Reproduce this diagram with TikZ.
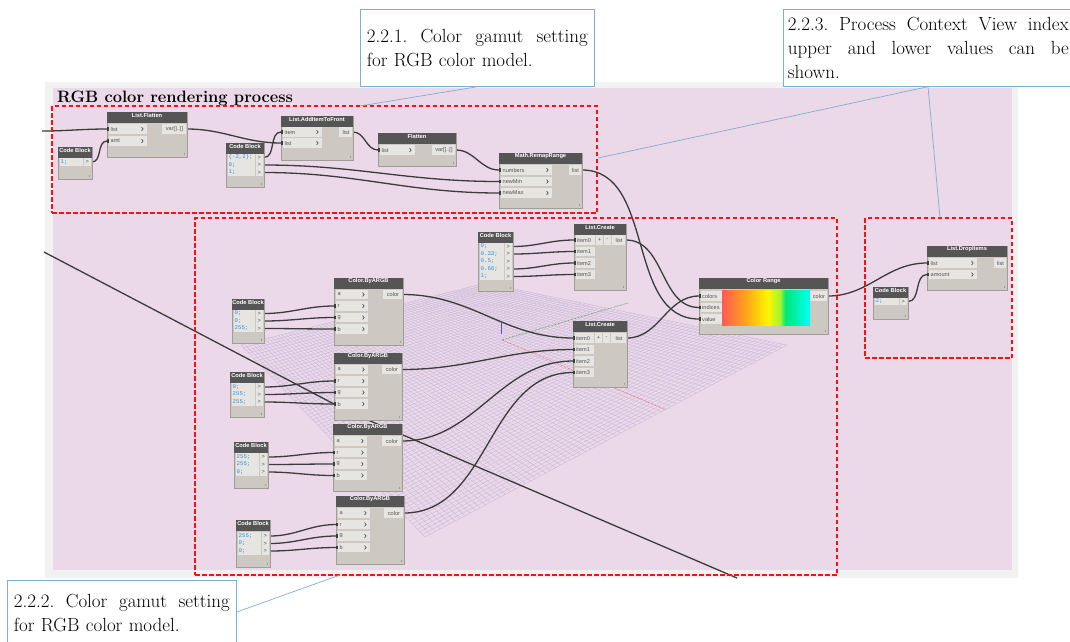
\documentclass[tikz,border=0pt]{standalone}
\usepackage{fontspec}
\setsansfont{Liberation Sans}
\setmonofont{Liberation Mono}
\usetikzlibrary{fit,calc}
\definecolor{pinkbg}{HTML}{EBD8E8}
\definecolor{greyfr}{HTML}{F2F2F2}
\definecolor{headc}{HTML}{555555}
\definecolor{bodyc}{HTML}{CEC8C3}
\definecolor{portc}{HTML}{E7E5E2}
\definecolor{bordc}{HTML}{A09C98}
\definecolor{wirec}{HTML}{3C3C3C}
\definecolor{codec}{HTML}{2F8FDF}
\definecolor{callc}{HTML}{7FAFD0}
\definecolor{gridc}{HTML}{C6B6DA}
\definecolor{labc}{HTML}{555555}
\definecolor{dashred}{HTML}{FF1010}
\definecolor{gA}{HTML}{FF5A55}
\definecolor{gB}{HTML}{FFA21A}
\definecolor{gC}{HTML}{FFF500}
\definecolor{gD}{HTML}{A0F530}
\definecolor{gE}{HTML}{00E87A}
\definecolor{gF}{HTML}{00FFF5}
\pgfdeclarehorizontalshading{crgrad}{100bp}{color(0bp)=(gA); color(25bp)=(gA); color(38bp)=(gB); color(51bp)=(gC); color(58bp)=(gD); color(61bp)=(gE); color(75bp)=(gF); color(100bp)=(gF)}
\pgfdeclarelayer{gridlayer}
\pgfdeclarelayer{wirelayer}
\pgfsetlayers{gridlayer,wirelayer,main}
\tikzset{
  dbody/.style={fill=bodyc, draw=bordc, line width=0.5pt, inner sep=0pt},
  dhead/.style={fill=headc, inner sep=0pt, text=white, font=\sffamily\bfseries\fontsize{5.7}{6}\selectfont},
  dport/.style={fill=portc, inner sep=0pt},
  dlab/.style={inner sep=0pt, text=labc, font=\sffamily\fontsize{5.6}{6}\selectfont},
  dcode/.style={inner sep=0pt, text=codec, font=\ttfamily\fontsize{5.7}{6}\selectfont},
  wire/.style={draw=wirec, line width=1.3pt},
  reddash/.style={draw=dashred, line width=1.3pt, dash pattern=on 4.5pt off 2.5pt, inner sep=0pt},
  callout/.style={draw=callc, line width=0.7pt, fill=white, align=left, font=\fontsize{19}{24}\selectfont},
  leader/.style={draw=callc, line width=0.7pt},
  gridline/.style={draw=gridc, line width=0.3pt},
}
% node body + header
\newcommand\dynnode[6]{%
  \node[dbody, fit={(#2,#3) (#4,#5)}] (#1) {};
  \node[dhead, fit={(#2,#3) (#4,#3+10.5)}] (#1-h) {#6};
  \draw[bordc, line width=0.5pt] (#4-3,#5-4.5) -- (#4-3,#5-2);
}
% input port with chevron
\newcommand\dynin[5]{%
  \node[dport, fit={(#2+1.5,#4-4.8) (#3,#4+4.8)}] (#1-p) {};
  \node[dlab, anchor=west] at (#2+3.5,#4) {#5};
  \draw[labc, line width=0.7pt] (#3-5.5,#4-1.8) -- (#3-3.8,#4) -- (#3-5.5,#4+1.8);
  \coordinate (#1) at (#2,#4);
}
% input port without chevron
\newcommand\dyninn[5]{%
  \node[dport, fit={(#2+1.5,#4-4.8) (#3,#4+4.8)}] (#1-p) {};
  \node[dlab, anchor=west] at (#2+3,#4) {#5};
  \coordinate (#1) at (#2,#4);
}
% output port
\newcommand\dynout[5]{%
  \node[dport, fit={(#2,#4-4.8) (#3-1.5,#4+4.8)}] (#1-p) {};
  \node[dlab] at ({(#2+#3)/2},#4) {#5};
  \coordinate (#1) at (#3,#4);
}
% small button
\newcommand\dynbtn[5]{%
  \node[dport, fit={(#2,#4-4.8) (#3,#4+4.8)}] (#1) {};
  \node[dlab] at ({(#2+#3)/2},#4) {#5};
}
% code block line with output
\newcommand\dyncb[5]{%
  \fill[portc] (#2+1.5,#4-3.6) rectangle (#3-9,#4+3.6);
  \node[dcode, anchor=west] at (#2+2.5,#4) {#5};
  \node[dport, fit={(#3-8,#4-3.6) (#3-1.5,#4+3.6)}] (#1-p) {};
  \node[dlab] at (#3-4.7,#4) {>};
  \coordinate (#1) at (#3,#4);
}
% wire
\newcommand\dynwire[2]{%
  \begin{pgfonlayer}{wirelayer}
  \draw[wire] (#1) to[out=0,in=180] (#2);
  \end{pgfonlayer}
  \fill[wirec] ($(#2)+(-0.5,-1.6)$) rectangle ($(#2)+(1.8,1.6)$);
}
\begin{document}
\begin{tikzpicture}[x=1pt,y=-1pt]
\useasboundingbox (0,0) rectangle (1070,641);
\begin{pgfonlayer}{gridlayer}
  \fill[white] (0,0) rectangle (1070,641);
  \fill[greyfr] (45,82) rectangle (1018,578);
  \fill[pinkbg] (53,88) rectangle (1012,570);
  \coordinate (gL) at (241,345);
  \coordinate (gT) at (485,283);
  \coordinate (gR) at (787,345);
  \coordinate (gB) at (425,537);
  \foreach \i in {0,...,72}{
    \pgfmathsetmacro\t{\i/72}
    \draw[gridline] ($(gL)!\t!(gB)$) -- ($(gT)!\t!(gR)$);
    \draw[gridline] ($(gL)!\t!(gT)$) -- ($(gB)!\t!(gR)$);
  }
  \draw[blue!70!white, line width=0.8pt] (501,323) -- (501,334);
  \draw[green!50!black, line width=0.5pt, densely dotted] (502,340) -- (628,303);
  \draw[red!80, line width=0.5pt, densely dotted] (502,340) -- (666,410);
\end{pgfonlayer}

\node[anchor=base west, inner sep=0pt, font=\bfseries\fontsize{16.5}{19}\selectfont] (title) at (57,102) {RGB color rendering process};

% ---------- top group ----------
\dynnode{lf}{107}{112}{187}{157}{List.Flatten}
\dynin{lf-list}{107}{147}{129}{list}
\dynin{lf-amt}{107}{147}{141}{amt}
\dynout{lf-out}{162}{187}{129}{var[]..[]}

\dynnode{cb1}{58}{147}{92}{179}{Code Block}
\dyncb{cb1-o1}{58}{92}{162}{1;}

\dynnode{cb2}{226}{143}{264}{187}{Code Block}
\dyncb{cb2-o1}{226}{264}{157.5}{\{-2,2\};}
\dyncb{cb2-o2}{226}{264}{165}{0;}
\dyncb{cb2-o3}{226}{264}{172.5}{1;}

\dynnode{laf}{281}{116}{353}{160}{List.AddItemToFront}
\dynin{laf-item}{281}{322}{132}{item}
\dynin{laf-list}{281}{322}{143}{list}
\dynout{laf-out}{339}{353}{132}{list}

\dynnode{fl}{378}{133}{456}{166}{Flatten}
\dynin{fl-list}{378}{415}{150}{list}
\dynout{fl-out}{432}{456}{150}{var[]..[]}

\dynnode{mr}{499}{153}{582}{208}{Math.RemapRange}
\dynin{mr-num}{499}{552}{170}{numbers}
\dynin{mr-min}{499}{552}{181.5}{newMin}
\dynin{mr-max}{499}{552}{193}{newMax}
\dynout{mr-out}{569}{582}{170}{list}

% ---------- index list ----------
\dynnode{cb3}{478}{232}{513}{291}{Code Block}
\dyncb{cb3-o1}{478}{513}{246.5}{0;}
\dyncb{cb3-o2}{478}{513}{254}{0.33;}
\dyncb{cb3-o3}{478}{513}{261.5}{0.5;}
\dyncb{cb3-o4}{478}{513}{269}{0.66;}
\dyncb{cb3-o5}{478}{513}{276.5}{1;}

\dynnode{lc1}{574}{224}{626}{290}{List.Create}
\dyninn{lc1-i0}{574}{595}{240}{item0}
\dyninn{lc1-i1}{574}{595}{251.5}{item1}
\dyninn{lc1-i2}{574}{595}{263}{item2}
\dyninn{lc1-i3}{574}{595}{274.5}{item3}
\dynbtn{lc1-plus}{596}{603}{240}{+}
\dynbtn{lc1-minus}{604}{611}{240}{-}
\dynout{lc1-out}{612}{626}{240}{list}

% ---------- colour range ----------
\dynnode{cr}{699}{278}{828}{334}{Color Range}
\dyninn{cr-col}{699}{722}{296}{colors}
\dyninn{cr-ind}{699}{722}{307.5}{indices}
\dyninn{cr-val}{699}{722}{319}{value}
\shade[shading=crgrad] (722,290.5) rectangle (810,325);
\dynout{cr-out}{810}{828}{296}{color}

\dynnode{ld}{927}{246}{1007}{290}{List.DropItems}
\dynin{ld-list}{927}{977}{263}{list}
\dynin{ld-amt}{927}{977}{274.5}{amount}
\dynout{ld-out}{994}{1007}{263}{list}

\dynnode{cb4}{873}{287}{908}{319}{Code Block}
\dyncb{cb4-o1}{873}{908}{301.5}{2;}

% ---------- colours ----------
\dynnode{ab1}{334}{278}{403}{345}{Color.ByARGB}
\dynin{ab1-a}{334}{368}{294.5}{a}
\dynin{ab1-r}{334}{368}{306}{r}
\dynin{ab1-g}{334}{368}{317.5}{g}
\dynin{ab1-b}{334}{368}{329}{b}
\dynout{ab1-out}{383}{403}{294.5}{color}

\dynnode{cb5}{232}{299}{264}{343}{Code Block}
\dyncb{cb5-o1}{232}{264}{313.5}{0;}
\dyncb{cb5-o2}{232}{264}{321}{0;}
\dyncb{cb5-o3}{232}{264}{328.5}{255;}

\dynnode{ab2}{334}{353}{402}{420}{Color.ByARGB}
\dynin{ab2-a}{334}{368}{369.5}{a}
\dynin{ab2-r}{334}{368}{381}{r}
\dynin{ab2-g}{334}{368}{392.5}{g}
\dynin{ab2-b}{334}{368}{404}{b}
\dynout{ab2-out}{382}{402}{369.5}{color}

\dynnode{cb6}{230}{372}{264}{417}{Code Block}
\dyncb{cb6-o1}{230}{264}{387}{0;}
\dyncb{cb6-o2}{230}{264}{394.5}{255;}
\dyncb{cb6-o3}{230}{264}{402}{255;}

\dynnode{ab3}{333}{424}{402}{491}{Color.ByARGB}
\dynin{ab3-a}{333}{367}{441}{a}
\dynin{ab3-r}{333}{367}{452.5}{r}
\dynin{ab3-g}{333}{367}{464}{g}
\dynin{ab3-b}{333}{367}{475.5}{b}
\dynout{ab3-out}{382}{402}{441}{color}

\dynnode{cb7}{234}{442}{268}{488}{Code Block}
\dyncb{cb7-o1}{234}{268}{457}{255;}
\dyncb{cb7-o2}{234}{268}{464.5}{255;}
\dyncb{cb7-o3}{234}{268}{472}{0;}

\dynnode{ab4}{336}{496}{404}{564}{Color.ByARGB}
\dynin{ab4-a}{336}{370}{513}{a}
\dynin{ab4-r}{336}{370}{524.5}{r}
\dynin{ab4-g}{336}{370}{536}{g}
\dynin{ab4-b}{336}{370}{547.5}{b}
\dynout{ab4-out}{384}{404}{513}{color}

\dynnode{cb8}{236}{520}{270}{567}{Code Block}
\dyncb{cb8-o1}{236}{270}{536}{255;}
\dyncb{cb8-o2}{236}{270}{543.5}{0;}
\dyncb{cb8-o3}{236}{270}{551}{0;}

\dynnode{lc2}{573}{321}{627}{387}{List.Create}
\dyninn{lc2-i0}{573}{594}{338}{item0}
\dyninn{lc2-i1}{573}{594}{349.5}{item1}
\dyninn{lc2-i2}{573}{594}{361}{item2}
\dyninn{lc2-i3}{573}{594}{372.5}{item3}
\dynbtn{lc2-plus}{595}{602}{338}{+}
\dynbtn{lc2-minus}{603}{610}{338}{-}
\dynout{lc2-out}{611}{627}{338}{list}

% ---------- wires ----------
\coordinate (wA) at (42,131);
\coordinate (wB) at (44,252);
\coordinate (wC) at (368,420);
\coordinate (wD) at (737,578);
\dynwire{wA}{lf-list}
\dynwire{cb1-o1}{lf-amt}
\dynwire{lf-out}{laf-list}
\dynwire{cb2-o1}{laf-item}
\dynwire{laf-out}{fl-list}
\dynwire{fl-out}{mr-num}
\dynwire{cb2-o2}{mr-min}
\dynwire{cb2-o3}{mr-max}
\dynwire{mr-out}{cr-val}
\dynwire{cb3-o1}{lc1-i0}
\dynwire{cb3-o2}{lc1-i1}
\dynwire{cb3-o4}{lc1-i2}
\dynwire{cb3-o5}{lc1-i3}
\dynwire{lc1-out}{cr-ind}
\dynwire{lc2-out}{cr-col}
\dynwire{cr-out}{ld-list}
\dynwire{cb4-o1}{ld-amt}
\dynwire{cb5-o1}{ab1-r}
\dynwire{cb5-o2}{ab1-g}
\dynwire{cb5-o3}{ab1-b}
\dynwire{cb6-o1}{ab2-r}
\dynwire{cb6-o2}{ab2-g}
\dynwire{cb6-o3}{ab2-b}
\dynwire{cb7-o1}{ab3-r}
\dynwire{cb7-o2}{ab3-g}
\dynwire{cb7-o3}{ab3-b}
\dynwire{cb8-o1}{ab4-r}
\dynwire{cb8-o2}{ab4-g}
\dynwire{cb8-o3}{ab4-b}
\dynwire{ab1-out}{lc2-i0}
\dynwire{ab2-out}{lc2-i1}
\dynwire{ab3-out}{lc2-i2}
\dynwire{ab4-out}{lc2-i3}
\begin{pgfonlayer}{wirelayer}
  \draw[wire] (wB) -- (ab2-b);
  \draw[wire] (wC) -- (wD);
\end{pgfonlayer}

% ---------- red dashed groups ----------
\node[reddash, fit={(52,106) (597,213)}] (rb1) {};
\node[reddash, fit={(195,218) (837,575)}] (rb2) {};
\node[reddash, fit={(865,218) (1012,358)}] (rb3) {};

% ---------- callouts ----------
\node[callout, anchor=north west, text width=221pt, inner xsep=6.5pt, minimum height=77pt] (c1) at (360,9)
  {2.2.1.\hfill Color\hfill gamut\hfill setting\\for RGB color model.};
\node[callout, anchor=north west, text width=281pt, inner xsep=4.5pt, minimum height=77pt] (c3) at (783,9)
  {2.2.3.\hfill Process\hfill Context\hfill View\hfill index\\upper\hfill and\hfill lower\hfill values\hfill can\hfill be\\shown.};
\node[callout, anchor=north west, text width=216pt, inner xsep=6.5pt, inner ysep=14pt] (c2) at (7,580)
  {2.2.2.\hfill Color\hfill gamut\hfill setting\\for RGB color model.};
\coordinate (e1) at (360,106);
\coordinate (e2) at (598,158);
\coordinate (e3) at (940,218);
\coordinate (e4) at (340,575);
\draw[leader] (c1.south) -- (e1);
\draw[leader] ($(c3.south west)+(145,0)$) -- (e2);
\draw[leader] ($(c3.south west)+(145,0)$) -- (e3);
\draw[leader] ($(c2.north east)+(0,32)$) -- (e4);
\end{tikzpicture}
\end{document}
